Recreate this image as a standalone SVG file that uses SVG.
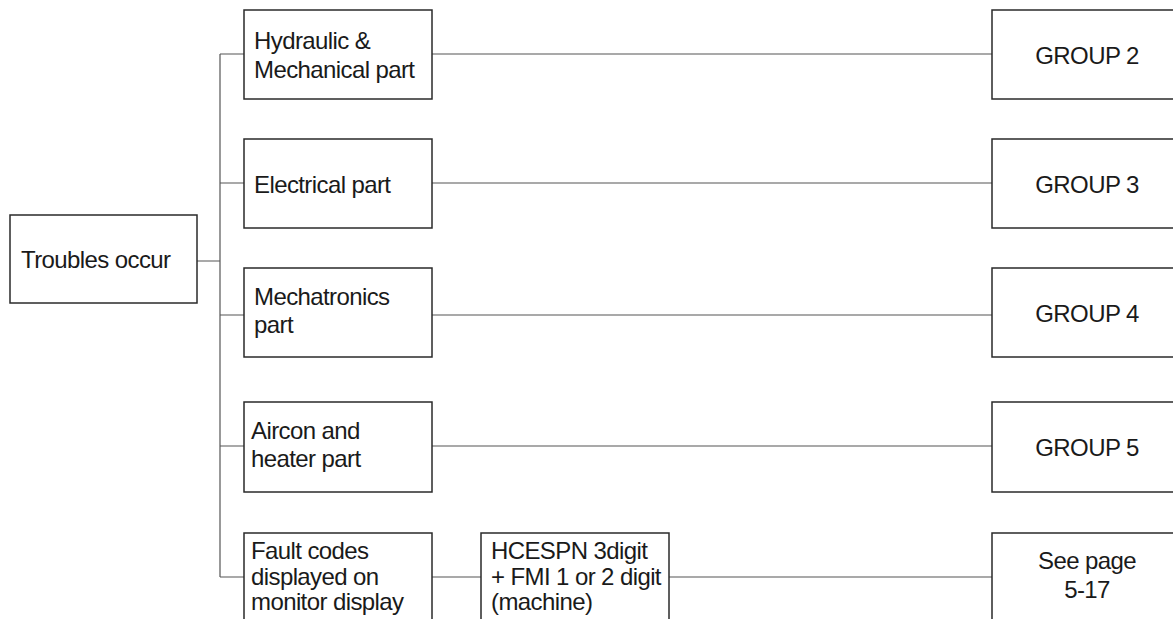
<svg xmlns="http://www.w3.org/2000/svg" width="1173" height="619" viewBox="0 0 1173 619">
<style>
.box{fill:#fff;stroke:#2a2a2a;stroke-width:1.5}
.ln{fill:none;stroke:#555;stroke-width:1.2}
text{font-family:"Liberation Sans",Arial,sans-serif;font-size:24px;fill:#1a1a1a;letter-spacing:-0.6px}
.c{text-anchor:middle}
</style>
<rect width="1173" height="619" fill="#fff"/>
<g id="connectors">
<path class="ln" d="M197,261H220M220,54V577M220,54H244M220,183H244M220,315H244M220,446H244M220,577H244"/>
<path class="ln" d="M432,54H992M432,183H992M432,315H992M432,446H992M432,577H481M669,577H992"/>
</g>
<g id="troubles"><rect class="box" x="10" y="215" width="187" height="88"/><text x="21" y="268">Troubles occur</text></g>
<g id="hydraulic"><rect class="box" x="244" y="10" width="188" height="89"/><text x="254" y="49">Hydraulic &amp;</text><text x="254" y="78">Mechanical part</text></g>
<g id="electrical"><rect class="box" x="244" y="139" width="188" height="89"/><text x="254" y="193">Electrical part</text></g>
<g id="mechatronics"><rect class="box" x="244" y="268" width="188" height="89"/><text x="254" y="305">Mechatronics</text><text x="254" y="333">part</text></g>
<g id="aircon"><rect class="box" x="244" y="402" width="188" height="90"/><text x="251" y="439">Aircon and</text><text x="251" y="467">heater part</text></g>
<g id="fault"><rect class="box" x="244" y="533" width="188" height="100"/><text x="251" y="559">Fault codes</text><text x="251" y="585">displayed on</text><text x="251" y="610">monitor display</text></g>
<g id="hcespn"><rect class="box" x="481" y="533" width="188" height="100"/><text x="491" y="559">HCESPN 3digit</text><text x="491" y="585">+ FMI 1 or 2 digit</text><text x="491" y="610">(machine)</text></g>
<g id="group2"><rect class="box" x="992" y="10" width="200" height="89"/><text class="c" x="1087" y="64">GROUP 2</text></g>
<g id="group3"><rect class="box" x="992" y="139" width="200" height="89"/><text class="c" x="1087" y="193">GROUP 3</text></g>
<g id="group4"><rect class="box" x="992" y="268" width="200" height="89"/><text class="c" x="1087" y="322">GROUP 4</text></g>
<g id="group5"><rect class="box" x="992" y="402" width="200" height="90"/><text class="c" x="1087" y="456">GROUP 5</text></g>
<g id="seepage"><rect class="box" x="992" y="533" width="200" height="100"/><text class="c" x="1087" y="569">See page</text><text class="c" x="1087" y="598">5-17</text></g>
</svg>
